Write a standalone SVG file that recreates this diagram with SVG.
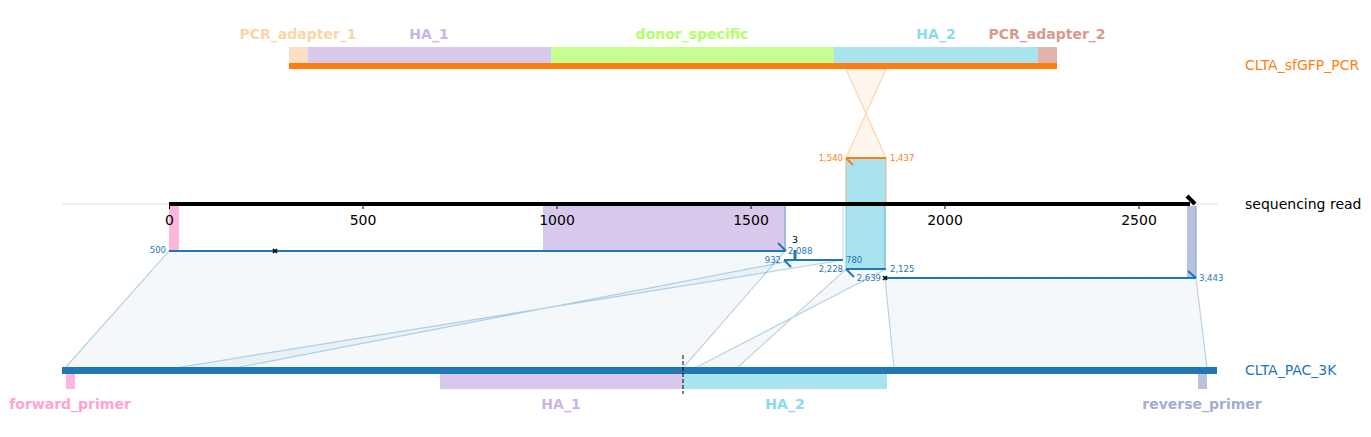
<svg xmlns="http://www.w3.org/2000/svg" width="1371" height="437" viewBox="0 0 1371 437">
<style>
text{font-family:"DejaVu Sans","Liberation Sans",sans-serif}
.feat{font-weight:bold;font-size:14px;text-anchor:middle}
.name{font-size:14px}
.tick{font-size:14px;text-anchor:middle;fill:#000}
.num{font-size:8.5px;fill:#1f77b4}
.numo{font-size:8.5px;fill:#ff7f0e}
.aln{fill:#1f77b4;fill-opacity:0.05;stroke:#1f77b4;stroke-opacity:0.3;stroke-width:1.2}
.seg{stroke:#1f77b4;stroke-width:2;fill:none}
.x{stroke:#000;stroke-width:1.6}
</style>
<rect width="1371" height="437" fill="#fff"/>
<g id="connectors">
  <polygon class="aln" points="169,251 785,251 683,368 65,368"/>
  <polygon class="aln" points="795,260 843,260 175,368 235,368"/>
  <polygon class="aln" points="846,269 886,269 695,368 737,368"/>
  <polygon class="aln" points="885,278 1196,278 1207,368 894,368"/>
  <polygon points="846,69 886,69 846,158 886,158" fill="#ff7f0e" fill-opacity="0.07" stroke="#ff7f0e" stroke-opacity="0.3" stroke-width="1.2"/>
</g>
<g id="CLTA_sfGFP_PCR">
  <rect x="289" y="47" width="19" height="16" fill="#fbdfc3"/>
  <rect x="308" y="47" width="243" height="16" fill="#d8c8eb"/>
  <rect x="551" y="47" width="283" height="16" fill="#c6ff8f"/>
  <rect x="834" y="47" width="204" height="16" fill="#a9e4ee"/>
  <rect x="1038" y="47" width="19" height="16" fill="#e1b3aa"/>
  <rect x="289" y="63" width="768" height="6" fill="#ff7f0e"/>
  <text class="feat" x="298" y="39" fill="#fbd5a9">PCR_adapter_1</text>
  <text class="feat" x="429" y="39" fill="#c9b4e6">HA_1</text>
  <text class="feat" x="692" y="39" fill="#b3ff66">donor_specific</text>
  <text class="feat" x="936" y="39" fill="#8adbe9">HA_2</text>
  <text class="feat" x="1047" y="39" fill="#d99a8c">PCR_adapter_2</text>
  <text class="name" x="1245" y="70" fill="#ff7f0e">CLTA_sfGFP_PCR</text>
</g>
<g id="sequencing_read">
  <line x1="62" y1="204" x2="1218" y2="204" stroke="#ddd" stroke-width="1"/>
  <rect x="169" y="206" width="10" height="45" fill="#ffb6dc"/>
  <rect x="543" y="206" width="242" height="45" fill="#d8c8eb"/>
  <line x1="785" y1="206" x2="785" y2="251" stroke="#8fa8d8" stroke-width="1.5"/>
  <line x1="843" y1="206" x2="843" y2="260" stroke="#1f77b4" stroke-opacity="0.3" stroke-width="1"/>
  <rect x="846" y="158" width="40" height="111" fill="#a9e4ee"/>
  <line x1="846" y1="158" x2="846" y2="204" stroke="#e0b48a" stroke-width="1"/>
  <line x1="886" y1="158" x2="886" y2="204" stroke="#e0b48a" stroke-width="1"/>
  <line x1="846" y1="206" x2="846" y2="269" stroke="#7ec4e0" stroke-width="1"/>
  <line x1="885" y1="206" x2="885" y2="269" stroke="#6bb3dc" stroke-width="1"/>
  <rect x="1187" y="206" width="9" height="72" fill="#b8c2df"/>
  <line x1="1196" y1="206" x2="1196" y2="278" stroke="#7aa6d8" stroke-width="1"/>
  <line x1="169" y1="204" x2="1190" y2="204" stroke="#000" stroke-width="4"/>
  <polyline points="1187,196 1195,204" stroke="#000" stroke-width="4" fill="none"/>
  <g stroke="#000" stroke-width="1">
    <line x1="169.5" y1="204" x2="169.5" y2="209"/>
    <line x1="363" y1="204" x2="363" y2="209"/>
    <line x1="557" y1="204" x2="557" y2="209"/>
    <line x1="751" y1="204" x2="751" y2="209"/>
    <line x1="945" y1="204" x2="945" y2="209"/>
    <line x1="1139" y1="204" x2="1139" y2="209"/>
  </g>
  <text class="tick" x="169.5" y="225">0</text>
  <text class="tick" x="363" y="225">500</text>
  <text class="tick" x="557" y="225">1000</text>
  <text class="tick" x="751" y="225">1500</text>
  <text class="tick" x="945" y="225">2000</text>
  <text class="tick" x="1139" y="225">2500</text>
  <text class="name" x="1245" y="209" fill="#000">sequencing read</text>
  <line class="seg" x1="169" y1="251" x2="785" y2="251"/>
  <line class="seg" x1="778" y1="243" x2="786" y2="251"/>
  <line class="seg" x1="784" y1="260" x2="843" y2="260"/>
  <line class="seg" x1="784" y1="260" x2="791" y2="267"/>
  <line x1="795" y1="250" x2="795" y2="260" stroke="#1f77b4" stroke-width="3"/>
  <text x="795" y="243" font-size="9.5" text-anchor="middle" fill="#000">3</text>
  <line class="seg" x1="846" y1="269" x2="886" y2="269"/>
  <line class="seg" x1="846" y1="269" x2="854" y2="277"/>
  <line class="seg" x1="885" y1="278" x2="1196" y2="278"/>
  <line class="seg" x1="1188" y1="271" x2="1196" y2="278"/>
  <line x1="846" y1="158" x2="886" y2="158" stroke="#ff7f0e" stroke-width="2"/>
  <line x1="846" y1="158" x2="853" y2="165" stroke="#ff7f0e" stroke-width="2"/>
  <path class="x" d="M273,249 l4,4 M277,249 l-4,4"/>
  <path class="x" d="M883,276 l4,4 M887,276 l-4,4"/>
  <text class="num" x="166" y="253" text-anchor="end">500</text>
  <text class="num" x="788" y="254">2,088</text>
  <text class="num" x="781" y="263" text-anchor="end">932</text>
  <text class="num" x="846" y="263">780</text>
  <text class="num" x="843" y="272" text-anchor="end">2,228</text>
  <text class="num" x="890" y="272">2,125</text>
  <text class="num" x="881" y="281" text-anchor="end">2,639</text>
  <text class="num" x="1199" y="281">3,443</text>
  <text class="numo" x="843" y="161" text-anchor="end">1,540</text>
  <text class="numo" x="890" y="161">1,437</text>
</g>
<g id="CLTA_PAC_3K">
  <rect x="62" y="367" width="1155" height="7" fill="#1f77b4"/>
  <rect x="66" y="374" width="9" height="15" fill="#ffb6dc"/>
  <rect x="440" y="374" width="243" height="15" fill="#d8c8eb"/>
  <rect x="683" y="374" width="204" height="15" fill="#a9e4ee"/>
  <rect x="1198" y="374" width="9" height="15" fill="#b8c2df"/>
  <line x1="683" y1="355" x2="683" y2="394" stroke="#000" stroke-width="1" stroke-dasharray="4,2"/>
  <text class="feat" x="70" y="409" fill="#ffa3d2">forward_primer</text>
  <text class="feat" x="561" y="409" fill="#c9b4e6">HA_1</text>
  <text class="feat" x="785" y="409" fill="#8adbe9">HA_2</text>
  <text class="feat" x="1202" y="409" fill="#a3aed6">reverse_primer</text>
  <text class="name" x="1245" y="375" fill="#1f77b4">CLTA_PAC_3K</text>
</g>
</svg>
